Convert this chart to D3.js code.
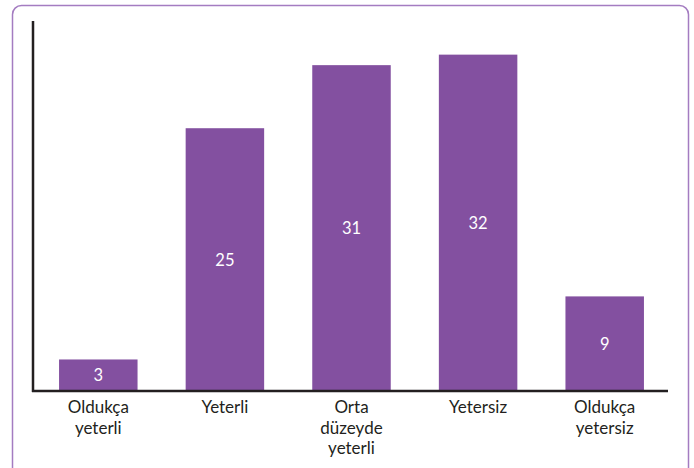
<!DOCTYPE html>
<html>
<head>
<meta charset="utf-8">
<script src="https://cdn.jsdelivr.net/npm/d3@7"></script>
<style>
  body { margin: 0; background: #fff; }
  svg { display: block; font-family: Lato, "Open Sans", sans-serif; }
</style>
</head>
<body>
<script>
// categories and values
const categories = ['Oldukça yeterli', 'Yeterli', 'Orta düzeyde yeterli', 'Yetersiz', 'Oldukça yetersiz']
const labelLines = [['Oldukça', 'yeterli'], ['Yeterli'], ['Orta', 'düzeyde', 'yeterli'], ['Yetersiz'], ['Oldukça', 'yetersiz']]
const values = [3, 25, 31, 32, 9]

const width = 694
const height = 468
const barColor = '#8350a0'

const svg = d3.select('body')
  .append('svg')
  .attr('width', width)
  .attr('height', height)

// outer frame
svg.append('rect')
  .attr('x', 12.5)
  .attr('y', 5.5)
  .attr('width', 676)
  .attr('height', 480)
  .attr('rx', 9)
  .attr('fill', 'none')
  .attr('stroke', '#a47cc1')
  .attr('stroke-width', 1.5)

const x = d3.scaleBand()
  .domain(categories)
  .range([35, 668])
  .paddingInner(0.38)
  .paddingOuter(0.19)

const y = d3.scaleLinear()
  .domain([0, 35.2])
  .range([391, 21])

// bars
const bar = svg.selectAll('g.bar')
  .data(values)
  .enter()
  .append('g')
  .attr('class', 'bar')

bar.append('rect')
  .attr('x', (d, i) => x(categories[i]))
  .attr('y', d => y(d))
  .attr('width', x.bandwidth())
  .attr('height', d => y(0) - y(d))
  .attr('fill', barColor)

bar.append('text')
  .attr('x', (d, i) => x(categories[i]) + x.bandwidth() / 2)
  .attr('y', d => (y(d) + y(0)) / 2)
  .attr('dy', '.36em')
  .attr('text-anchor', 'middle')
  .attr('fill', '#fff')
  .attr('font-size', 16.5)
  .text(d => d)

// axes (plain lines, no ticks)
svg.append('line')
  .attr('x1', 33).attr('x2', 33)
  .attr('y1', 21).attr('y2', 392)
  .attr('stroke', '#231f20')
  .attr('stroke-width', 2.5)

svg.append('line')
  .attr('x1', 32).attr('x2', 668)
  .attr('y1', 391).attr('y2', 391)
  .attr('stroke', '#231f20')
  .attr('stroke-width', 2.5)

// category labels
const lab = svg.selectAll('text.cat')
  .data(categories)
  .enter()
  .append('text')
  .attr('class', 'cat')
  .attr('text-anchor', 'middle')
  .attr('fill', '#231f20')
  .attr('font-size', 17)
  .attr('x', d => x(d) + x.bandwidth() / 2)
  .attr('y', 413)

lab.selectAll('tspan')
  .data((d, i) => labelLines[i])
  .enter()
  .append('tspan')
  .attr('x', function () { return this.parentNode.getAttribute('x') })
  .attr('dy', (d, i) => i === 0 ? 0 : 20.5)
  .text(d => d)
</script>
</body>
</html>
